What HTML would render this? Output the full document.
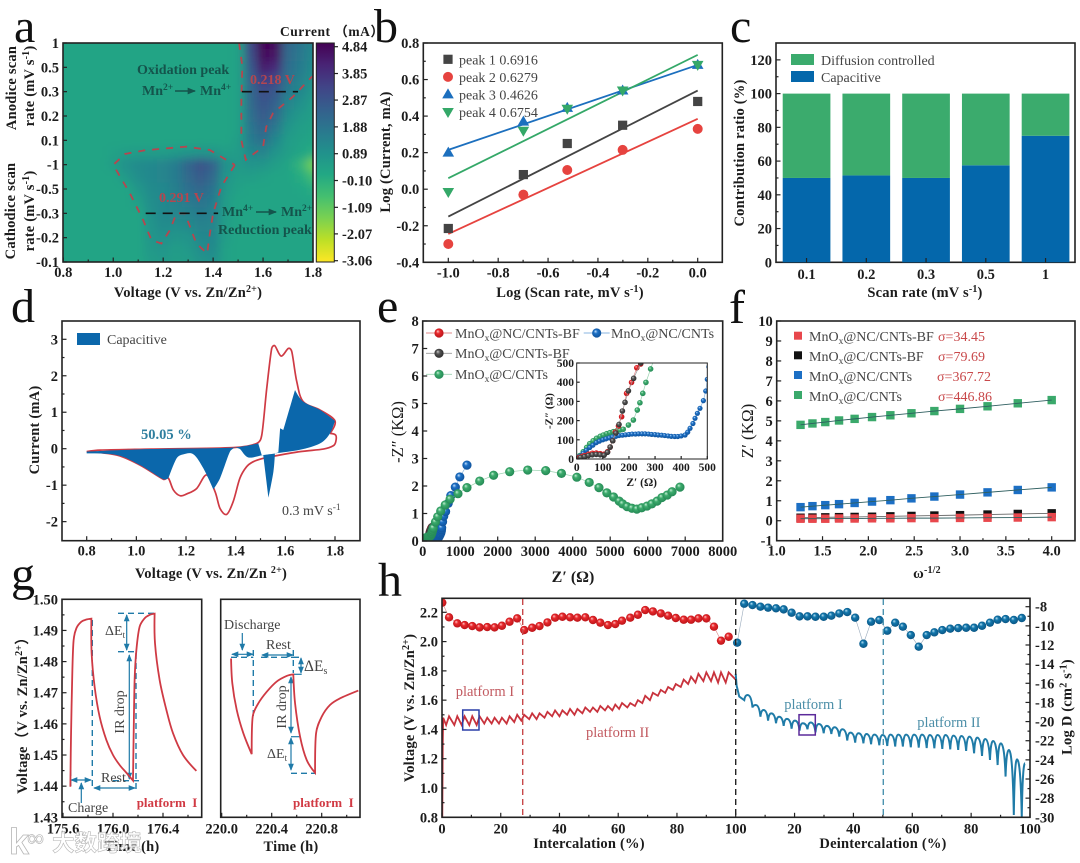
<!DOCTYPE html>
<html lang="en">
<head>
<meta charset="utf-8">
<title>MnOx electrochemistry figure</title>
<style>
html,body{margin:0;padding:0;background:#fff;}
#figure{display:block;width:1080px;height:863px;filter:blur(.35px);}
text{font-family:"Liberation Serif","Noto Sans CJK SC",serif;fill:#1c1c1c;}
.tk{font-size:14.5px;font-weight:bold;}
.at{font-size:14.5px;font-weight:bold;letter-spacing:.2px;}
.lt{font-size:14px;fill:#444;}
.pl{font-size:48px;fill:#111;}
.an{font-size:14px;fill:#444;}
.frame{fill:none;stroke:#222;stroke-width:1.6;}
.ann{stroke:#1f7aa8;stroke-width:1.2;fill:none;}
.dash{stroke-dasharray:6 4;stroke-width:1.4;}
</style>
</head>
<body>
<svg id="figure" xmlns="http://www.w3.org/2000/svg" width="1080" height="863" viewBox="0 0 1080 863">
<defs>
<linearGradient id="cbar" x1="0" y1="0" x2="0" y2="1">
<stop offset="0" stop-color="#440154"/><stop offset=".1" stop-color="#482475"/><stop offset=".2" stop-color="#414487"/><stop offset=".3" stop-color="#355f8d"/><stop offset=".4" stop-color="#2a788e"/><stop offset=".5" stop-color="#21918c"/><stop offset=".6" stop-color="#22a884"/><stop offset=".7" stop-color="#44bf70"/><stop offset=".8" stop-color="#7ad151"/><stop offset=".9" stop-color="#bddf26"/><stop offset="1" stop-color="#fde725"/>
</linearGradient>
<filter id="heatBlur" filterUnits="userSpaceOnUse" x="0" y="0" width="400" height="320"><feGaussianBlur stdDeviation="4.5"/></filter>
<clipPath id="clipA"><rect x="63" y="43" width="250" height="219"/></clipPath>
<clipPath id="clipInset"><rect x="576.7" y="363" width="130.6" height="96"/></clipPath>
<clipPath id="clipMain"><rect x="422.7" y="321" width="300" height="220"/></clipPath>
<clipPath id="clipH"><rect x="442" y="598" width="588" height="219.3"/></clipPath>
<radialGradient id="sRed" cx=".5" cy=".5" r=".6" fx=".35" fy=".3"><stop offset="0" stop-color="#ffc9c9"/><stop offset=".35" stop-color="#e8282c"/><stop offset="1" stop-color="#b01015"/></radialGradient>
<radialGradient id="sBlack" cx=".5" cy=".5" r=".6" fx=".35" fy=".3"><stop offset="0" stop-color="#ccc"/><stop offset=".35" stop-color="#555"/><stop offset="1" stop-color="#222"/></radialGradient>
<radialGradient id="sBlue" cx=".5" cy=".5" r=".6" fx=".35" fy=".3"><stop offset="0" stop-color="#c6e2ff"/><stop offset=".35" stop-color="#1c6fc4"/><stop offset="1" stop-color="#0d4c92"/></radialGradient>
<radialGradient id="sGreen" cx=".5" cy=".5" r=".6" fx=".35" fy=".3"><stop offset="0" stop-color="#c8f0d8"/><stop offset=".35" stop-color="#3cab6c"/><stop offset="1" stop-color="#1f8150"/></radialGradient>
<radialGradient id="sTeal" cx=".5" cy=".5" r=".6" fx=".35" fy=".3"><stop offset="0" stop-color="#bfe4f5"/><stop offset=".35" stop-color="#1277ac"/><stop offset="1" stop-color="#0a4f7c"/></radialGradient>
<marker id="ah" viewBox="0 0 8 8" refX="7" refY="4" markerWidth="6" markerHeight="6" orient="auto-start-reverse"><path d="M0 0.8L8 4L0 7.2z" fill="#1f7aa8"/></marker>
<marker id="ahk" viewBox="0 0 8 8" refX="7" refY="4" markerWidth="6" markerHeight="6" orient="auto"><path d="M0 0.8L8 4L0 7.2z" fill="#14544c"/></marker>
</defs>

<!-- panel letters -->
<text class="pl" x="14" y="42">a</text>
<text class="pl" x="374" y="42">b</text>
<text class="pl" x="730" y="42">c</text>
<text class="pl" x="11" y="322">d</text>
<text class="pl" x="377" y="322">e</text>
<text class="pl" x="729" y="323">f</text>
<text class="pl" x="11" y="590">g</text>
<text class="pl" x="378" y="596">h</text>

<!-- panel a -->
<g id="panelA">
<rect x="63" y="43" width="250" height="219" fill="#22a287"/>
<g clip-path="url(#clipA)"><g id="heatCells" filter="url(#heatBlur)"></g></g>
<g id="heatOutlines" clip-path="url(#clipA)"></g>
<rect class="frame" x="63" y="43" width="250" height="219"/>
<rect x="316.3" y="43" width="18" height="219" fill="url(#cbar)" stroke="#222" stroke-width="1"/>
<text x="280" y="36" style="font-size:13.5px;font-weight:bold;letter-spacing:.5px">Current （mA）</text>
<text x="137" y="74" style="font-size:14px;font-weight:bold;fill:#14544c">Oxidation peak</text>
<text x="142" y="95" style="font-size:14px;font-weight:bold;fill:#14544c">Mn<tspan dy="-5" font-size="9.5">2+</tspan></text>
<line x1="175" y1="91" x2="195" y2="91" stroke="#14544c" stroke-width="1.4" marker-end="url(#ahk)"/>
<text x="200" y="95" style="font-size:14px;font-weight:bold;fill:#14544c">Mn<tspan dy="-5" font-size="9.5">4+</tspan></text>
<text x="222" y="216" style="font-size:14px;font-weight:bold;fill:#14544c">Mn<tspan dy="-5" font-size="9.5">4+</tspan></text>
<line x1="256" y1="212" x2="276" y2="212" stroke="#14544c" stroke-width="1.4" marker-end="url(#ahk)"/>
<text x="281" y="216" style="font-size:14px;font-weight:bold;fill:#14544c">Mn<tspan dy="-5" font-size="9.5">2+</tspan></text>
<text x="218" y="234" style="font-size:14px;font-weight:bold;fill:#14544c">Reduction peak</text>
<text x="250" y="84" style="font-size:14px;font-weight:bold;fill:#b5464f">0.218 V</text>
<text x="159" y="202" style="font-size:14px;font-weight:bold;fill:#b5464f">0.291 V</text>
<text class="at" text-anchor="middle" x="188" y="297">Voltage (V vs. Zn/Zn<tspan dy="-5" font-size="10">2+</tspan><tspan dy="5">)</tspan></text>
<text class="at" text-anchor="middle" transform="translate(16,88) rotate(-90)">Anodice scan</text>
<text class="at" text-anchor="middle" transform="translate(34,86) rotate(-90)">rate (mV s<tspan dy="-5" font-size="10">-1</tspan><tspan dy="5">)</tspan></text>
<text class="at" text-anchor="middle" transform="translate(15,211) rotate(-90)">Cathodice scan</text>
<text class="at" text-anchor="middle" transform="translate(34,211) rotate(-90)">rate (mV s<tspan dy="-5" font-size="10">-1</tspan><tspan dy="5">)</tspan></text>
</g>

<!-- panel b -->
<g id="panelB">
<rect class="frame" x="423.3" y="43" width="299" height="219.3"/>
<text class="at" text-anchor="middle" x="570" y="297">Log (Scan rate, mV s<tspan dy="-5" font-size="10">-1</tspan><tspan dy="5">)</tspan></text>
<text class="at" text-anchor="middle" transform="translate(390,152) rotate(-90)">Log (Current, mA)</text>
</g>

<!-- panel c -->
<g id="panelC">
<rect class="frame" x="776" y="43" width="299" height="219.3"/>
<rect x="791" y="54" width="23" height="11" fill="#3bab6d"/>
<rect x="791" y="71" width="23" height="11" fill="#0467ab"/>
<text class="lt" x="821" y="65">Diffusion controlled</text>
<text class="lt" x="821" y="82">Capacitive</text>
<text class="at" text-anchor="middle" x="925" y="297">Scan rate (mV s<tspan dy="-5" font-size="10">-1</tspan><tspan dy="5">)</tspan></text>
<text class="at" text-anchor="middle" transform="translate(744,153) rotate(-90)">Contribution ratio (%)</text>
</g>

<!-- panel d -->
<g id="panelD">
<rect class="frame" x="62" y="321" width="298" height="219.7"/>
<rect x="77" y="333" width="23" height="12" fill="#0b67ab"/>
<text class="lt" x="107" y="344">Capacitive</text>
<text x="141" y="439" style="font-size:14.5px;font-weight:bold;fill:#2f7f9f">50.05 %</text>
<text class="lt" x="282" y="515">0.3 mV s<tspan dy="-5" font-size="9.5">-1</tspan></text>
<text class="at" text-anchor="middle" x="211" y="578">Voltage (V vs. Zn/Zn <tspan dy="-5" font-size="10">2+</tspan><tspan dy="5">)</tspan></text>
<text class="at" text-anchor="middle" transform="translate(39,430) rotate(-90)">Current (mA)</text>
</g>

<!-- panel e -->
<g id="panelE">
<g id="eMarks" clip-path="url(#clipMain)"></g>
<rect class="frame" x="422.7" y="321" width="300" height="220"/>
<g id="eLegend"></g>
<text class="lt" x="455" y="338">MnO<tspan dy="3" font-size="9.5">x</tspan><tspan dy="-3">@NC/CNTs-BF</tspan></text>
<text class="lt" x="611" y="338">MnO<tspan dy="3" font-size="9.5">x</tspan><tspan dy="-3">@NC/CNTs</tspan></text>
<text class="lt" x="455" y="358">MnO<tspan dy="3" font-size="9.5">x</tspan><tspan dy="-3">@C/CNTs-BF</tspan></text>
<text class="lt" x="455" y="379">MnO<tspan dy="3" font-size="9.5">x</tspan><tspan dy="-3">@C/CNTs</tspan></text>
<rect x="576.7" y="363" width="130.6" height="96" fill="#fff"/>
<g id="eInset" clip-path="url(#clipInset)"></g>
<rect x="576.7" y="363" width="130.6" height="96" fill="none" stroke="#222" stroke-width="1"/>
<text text-anchor="middle" x="641.7" y="486" style="font-size:11.5px;font-weight:bold">Z′ (Ω)</text>
<text text-anchor="middle" transform="translate(552.7,411) rotate(-90)" style="font-size:11px;font-weight:bold">-Z″ (Ω)</text>
<text text-anchor="middle" x="573" y="582" style="font-size:16px;font-weight:bold">Z′ (Ω)</text>
<text text-anchor="middle" transform="translate(403,432) rotate(-90)" style="font-size:16.5px">-Z″ (KΩ)</text>
</g>

<!-- panel f -->
<g id="panelF">
<rect class="frame" x="776.7" y="321" width="298.3" height="219.7"/>
<g id="fLegend"></g>
<text class="lt" x="809" y="341">MnO<tspan dy="3" font-size="9.5">x</tspan><tspan dy="-3">@NC/CNTs-BF</tspan></text>
<text class="lt" x="809" y="361">MnO<tspan dy="3" font-size="9.5">x</tspan><tspan dy="-3">@C/CNTs-BF</tspan></text>
<text class="lt" x="809" y="381">MnO<tspan dy="3" font-size="9.5">x</tspan><tspan dy="-3">@NC/CNTs</tspan></text>
<text class="lt" x="809" y="401">MnO<tspan dy="3" font-size="9.5">x</tspan><tspan dy="-3">@C/CNTs</tspan></text>
<text x="938" y="341" style="font-size:14px;fill:#c8484a">σ=34.45</text>
<text x="938" y="361" style="font-size:14px;fill:#c8484a">σ=79.69</text>
<text x="937" y="381" style="font-size:14px;fill:#c8484a">σ=367.72</text>
<text x="938" y="401" style="font-size:14px;fill:#c8484a">σ=446.86</text>
<text class="at" text-anchor="middle" x="927" y="578">ω<tspan dy="-5" font-size="10">-1/2</tspan></text>
<text text-anchor="middle" transform="translate(753,431) rotate(-90)" style="font-size:17px">Z′ (KΩ)</text>
</g>

<!-- panel g -->
<g id="panelG">
<rect class="frame" x="62" y="599.3" width="139.7" height="218"/>
<rect class="frame" x="220.7" y="599.3" width="139.3" height="218"/>
<g>
<line class="ann dash" x1="92.3" y1="620" x2="92.3" y2="787"/>
<line class="ann dash" x1="70.7" y1="770" x2="70.7" y2="787"/>
<line class="ann" x1="71" y1="780" x2="91" y2="780" marker-start="url(#ah)" marker-end="url(#ah)"/>
<line class="ann" x1="81.3" y1="803" x2="81.3" y2="783" marker-end="url(#ah)"/>
<line class="ann" x1="94" y1="788" x2="135" y2="788" marker-start="url(#ah)" marker-end="url(#ah)"/>
<line class="ann dash" x1="136" y1="653" x2="136" y2="790"/>
<line class="ann dash" x1="118" y1="613.3" x2="155" y2="613.3"/>
<line class="ann dash" x1="118" y1="651.7" x2="136.7" y2="651.7"/>
<line class="ann" x1="126.7" y1="615" x2="126.7" y2="650" marker-start="url(#ah)" marker-end="url(#ah)"/>
<line class="ann" x1="129.3" y1="655" x2="129.3" y2="779" marker-start="url(#ah)" marker-end="url(#ah)"/>
<line class="ann dash" x1="113" y1="780.7" x2="143" y2="780.7"/>
<text class="an" x="68" y="812">Charge</text>
<text class="an" x="101" y="782">Rest</text>
<text class="an" x="105" y="635">ΔE<tspan dy="3" font-size="9">t</tspan></text>
<text class="an" text-anchor="middle" transform="translate(124,712) rotate(-90)">IR drop</text>
</g>
<g>
<line class="ann" x1="242.3" y1="633" x2="242.3" y2="650" marker-end="url(#ah)"/>
<line class="ann dash" x1="231" y1="657.3" x2="253.3" y2="657.3"/>
<line class="ann" x1="232" y1="654.3" x2="253" y2="654.3" marker-start="url(#ah)" marker-end="url(#ah)"/>
<line class="ann dash" x1="253.3" y1="650" x2="253.3" y2="717"/>
<line class="ann" x1="262" y1="655" x2="293" y2="655" marker-start="url(#ah)" marker-end="url(#ah)"/>
<line class="ann dash" x1="261" y1="657.3" x2="293" y2="657.3"/>
<line class="ann dash" x1="293.3" y1="650" x2="293.3" y2="673"/>
<line class="ann dash" x1="293" y1="657.3" x2="302.7" y2="657.3"/>
<line class="ann" x1="293" y1="674.3" x2="301.7" y2="674.3"/>
<line class="ann" x1="301" y1="658" x2="301" y2="673" marker-start="url(#ah)" marker-end="url(#ah)"/>
<line class="ann" x1="291" y1="677" x2="291" y2="733" marker-start="url(#ah)" marker-end="url(#ah)"/>
<line class="ann" x1="291" y1="736.7" x2="300" y2="736.7"/>
<line class="ann" x1="291" y1="738" x2="291" y2="770" marker-start="url(#ah)" marker-end="url(#ah)"/>
<line class="ann dash" x1="291" y1="773.3" x2="315" y2="773.3"/>
<text class="an" x="224" y="629">Discharge</text>
<text class="an" x="266" y="649">Rest</text>
<text x="304" y="671" style="font-size:15.5px;fill:#444">ΔE<tspan dy="3" font-size="10">s</tspan></text>
<text class="an" text-anchor="middle" transform="translate(286,707) rotate(-90)">IR drop</text>
<text class="an" x="267" y="758">ΔE<tspan dy="3" font-size="9">t</tspan></text>
</g>
<text x="136.7" y="807" style="font-size:13px;font-weight:bold;fill:#d13a44">platform&#160;&#160;I</text>
<text x="293" y="807" style="font-size:13px;font-weight:bold;fill:#d13a44">platform&#160;&#160;I</text>
<text class="at" text-anchor="middle" x="132" y="851">Time (h)</text>
<text class="at" text-anchor="middle" x="291" y="851">Time (h)</text>
<text class="at" text-anchor="middle" transform="translate(27,712) rotate(-90)">Voltage（V vs. Zn/Zn<tspan dy="-5" font-size="10">2+</tspan><tspan dy="5">）</tspan></text>
</g>

<!-- panel h -->
<g id="panelH">
<g id="hMarks" clip-path="url(#clipH)"></g>
<rect class="frame" x="442" y="598.3" width="588" height="219"/>
<line x1="522.7" y1="599" x2="522.7" y2="817" stroke="#c8484a" stroke-width="1.4" stroke-dasharray="6 4"/>
<line x1="735.7" y1="599" x2="735.7" y2="817" stroke="#222" stroke-width="1.4" stroke-dasharray="6 4"/>
<line x1="883.3" y1="599" x2="883.3" y2="817" stroke="#4d94b0" stroke-width="1.4" stroke-dasharray="6 4"/>
<rect x="462.7" y="710" width="16.3" height="20" fill="none" stroke="#2a3fa8" stroke-width="1.5"/>
<rect x="799" y="714.7" width="16.3" height="20.3" fill="none" stroke="#5b2a9a" stroke-width="1.5"/>
<text x="455.7" y="696" style="font-size:14.5px;fill:#c25a60">platform I</text>
<text x="586" y="737" style="font-size:14.5px;fill:#c25a60">platform II</text>
<text x="784.3" y="709" style="font-size:14.5px;fill:#4d8fa8">platform I</text>
<text x="917.3" y="727" style="font-size:14.5px;fill:#4d8fa8">platform II</text>
<text class="at" text-anchor="middle" x="589" y="848">Intercalation (%)</text>
<text class="at" text-anchor="middle" x="883" y="848">Deintercalation (%)</text>
<text class="at" text-anchor="middle" transform="translate(414,708) rotate(-90)">Voltage (V vs. Zn/Zn<tspan dy="-5" font-size="10">2+</tspan><tspan dy="5">)</tspan></text>
<text class="at" text-anchor="middle" transform="translate(1071.7,707) rotate(-90)">Log D (cm<tspan dy="-5" font-size="10">2</tspan><tspan dy="5"> s</tspan><tspan dy="-5" font-size="10">-1</tspan><tspan dy="5">)</tspan></text>
</g>

<!-- watermark -->
<g opacity=".85">
<text x="9" y="854" style="font-size:36px;font-family:'Liberation Sans',sans-serif;font-weight:bold;fill:#fff;stroke:#aaa;stroke-width:.8">k</text>
<text x="27" y="846" style="font-size:24px;font-family:'Liberation Sans',sans-serif;fill:#fff;stroke:#aaa;stroke-width:.7">∞</text>
<text x="52" y="851" style="font-size:22.5px;font-family:'Liberation Sans','Noto Sans CJK SC',sans-serif;font-weight:bold;fill:#fff;stroke:#aaa;stroke-width:.6">大数跨境</text>
</g>
</svg>

<script>
/* ---------- panel a data ---------- */
const heatVoltages = [0.8,0.85,0.9,0.95,1,1.05,1.1,1.15,1.2,1.25,1.3,1.35,1.4,1.45,1.5,1.55,1.6,1.65,1.7,1.75,1.8];
const heatValues = [
[-.1,-.1,-.1,-.1,-.1,-.1,-.1,-.1,-.1,-.1,-.1,-.1,-.1,-.1,0,3,4.8,4.6,2,1.5,1],
[-.1,-.1,-.1,-.1,-.1,-.1,-.1,-.1,-.1,-.1,-.1,-.1,-.1,-.1,0,2.8,4.6,4.4,1.9,1.4,.9],
[-.1,-.1,-.1,-.1,-.1,-.1,-.1,-.1,-.1,-.1,-.1,-.1,-.1,-.1,0,2.5,4.2,3.8,1.8,1.3,.8],
[-.1,-.1,-.1,-.1,-.1,-.1,-.1,-.1,-.1,-.1,-.1,-.1,-.1,-.1,0,2.2,3.4,3,1.6,1.1,.6],
[-.1,-.1,-.1,-.1,-.1,-.1,-.1,-.1,-.1,-.1,-.1,-.1,-.1,-.1,0,2,2.8,2.5,1.3,.9,.4],
[-.1,-.1,-.1,-.1,-.1,-.1,-.1,-.1,-.1,-.1,-.1,-.1,-.1,-.1,0,1.9,2.6,2.2,1,.6,.2],
[-.1,-.1,-.1,-.1,-.1,-.1,-.1,-.1,-.1,-.1,-.1,-.1,-.1,-.1,0,1.7,2.4,1.9,.7,.3,.1],
[-.1,-.1,-.1,-.1,-.1,-.1,-.1,-.1,-.1,-.1,-.1,-.1,-.1,-.1,0,1.5,2.1,1.4,.4,.1,0],
[-.1,-.1,-.1,-.1,-.1,-.1,-.1,-.1,-.1,-.1,-.1,-.1,-.1,-.1,.1,1.3,1.7,.9,.2,0,-.1],
[-.1,-.1,-.1,-.1,0,.1,.2,.2,.2,.3,.4,.5,.4,.1,.2,.9,1,.5,.1,-.1,-.4],
[-.1,-.1,-.1,-.1,.1,.6,.8,.9,1,1.3,2.1,2.7,2.2,.6,.3,.5,.4,.1,-.1,-.7,-1.8],
[-.1,-.1,-.1,-.1,-.1,.3,.7,.9,1,1.3,1.9,2.4,1.9,.5,.1,.1,0,-.1,-.1,-.4,-1],
[-.1,-.1,-.1,-.1,-.1,-.1,.4,.8,.9,1.2,1.7,2,1.6,.3,0,-.1,-.1,-.1,-.1,-.2,-.4],
[-.1,-.1,-.1,-.1,-.1,-.1,.1,.7,.9,1.1,1.4,1.6,1.3,.2,-.1,-.1,-.1,-.1,-.1,-.1,-.1],
[-.1,-.1,-.1,-.1,-.1,-.1,-.1,.6,.9,1,1.1,1.3,1.1,.2,-.1,-.1,-.1,-.1,-.1,-.1,-.1],
[-.1,-.1,-.1,-.1,-.1,-.1,-.1,.5,.8,.7,.8,1.1,1,.1,-.1,-.1,-.1,-.1,-.1,-.1,-.1],
[-.1,-.1,-.1,-.1,-.1,-.1,-.1,.4,.6,.4,.5,.9,.9,.1,-.1,-.1,-.1,-.1,-.1,-.1,-.1],
[-.1,-.1,-.1,-.1,-.1,-.1,-.1,.3,.4,.2,.3,.7,.8,0,-.1,-.1,-.1,-.1,-.1,-.1,-.1],
[-.1,-.1,-.1,-.1,-.1,-.1,-.1,.2,.3,.1,.2,.5,.6,0,-.1,-.1,-.1,-.1,-.1,-.1,-.1]
];
const aXTickLabels = ["0.8","1.0","1.2","1.4","1.6","1.8"];
const aXTicks = [0.8,1,1.2,1.4,1.6,1.8];
const aXMinor = [0.9,1.1,1.3,1.5,1.7];
const aYTickLabels = ["1","0.5","0.3","0.2","0.1","-1","-0.5","-0.3","-0.2","-0.1"];
const cbarTicks = [4.84,3.85,2.87,1.88,0.89,-0.10,-1.09,-2.07,-3.06];
const cbarLabels = ["4.84","3.85","2.87","1.88","0.89","-0.10","-1.09","-2.07","-3.06"];
const oxOutlineV = [1.504,1.517,1.513,1.513,1.531,1.6,1.613,1.64,1.72,1.797];
const oxOutlineR = [0,.96,2.34,4,4.8,4.27,3.44,2.88,2.2,1.37];
const redOutlineV = [1.487,1.433,1.4,1.387,1.376,1.333,1.287,1.253,1.227,1.193,1.153,1.12,1.067,1,1.047,1.133,1.293,1.387,1.487];
const redOutlineR = [5.01,5.9,7,7.83,8.65,8.24,7,7,7.69,8.24,8.1,7.28,6.18,5.01,4.56,4.4,4.26,4.4,5.01];

/* ---------- panel b data ---------- */
const logScanRate = [-1,-0.699,-0.523,-0.301,0];
const peak1 = [-0.215,0.08,0.25,0.35,0.48];
const peak2 = [-0.30,-0.03,0.105,0.215,0.33];
const peak3 = [0.2,0.37,0.445,0.54,0.68];
const peak4 = [-0.015,0.32,0.44,0.54,0.68];
const fitEndsX = [-1,0];
const fit1 = [-0.15,0.54];
const fit2 = [-0.245,0.385];
const fit3 = [0.215,0.68];
const fit4 = [0.06,0.735];
const bLegendLabels = ["peak 1 0.6916","peak 2 0.6279","peak 3 0.4626","peak 4 0.6754"];
const bXTicks = [-1,-0.8,-0.6,-0.4,-0.2,0];
const bXLabels = ["-1.0","-0.8","-0.6","-0.4","-0.2","0.0"];
const bXMinor = [-0.9,-0.7,-0.5,-0.3,-0.1];
const bYTicks = [-0.4,-0.2,0,0.2,0.4,0.6,0.8];
const bYLabels = ["-0.4","-0.2","0.0","0.2","0.4","0.6","0.8"];
const bYMinor = [-0.3,-0.1,0.1,0.3,0.5,0.7];

/* ---------- panel c data ---------- */
const scanRates = ["0.1","0.2","0.3","0.5","1"];
const capacitiveShare = [50,51.5,50,57.5,75];
const diffusionShare = [50,48.5,50,42.5,25];
const cYTicks = [0,20,40,60,80,100,120];
const cYLabels = ["0","20","40","60","80","100","120"];
const cYMinor = [10,30,50,70,90,110];

/* ---------- panel d data ---------- */
const cvVoltage = [1.78,1.803,1.803,1.793,1.753,1.659,1.565,1.511,1.471,1.444,1.417,1.39,1.364,1.337,1.317,1.283,1.243,1.203,1.176,1.149,1.129,1.109,1.015,0.921,0.8,0.854,1.06,1.39,1.485,1.505,1.525,1.545,1.558,1.583,1.612,1.626,1.646,1.672,1.74,1.8,1.78];
const cvCurrent = [0.42,0.37,0.19,0.08,-0.01,-0.08,-0.19,-0.265,-0.356,-0.494,-0.81,-1.45,-1.8,-1.64,-1.18,-0.72,-1.09,-1.24,-1.29,-1.13,-0.81,-0.84,-0.45,-0.174,-0.08,-0.04,-0.01,0.03,0.146,0.37,1.65,2.75,2.82,2.54,2.75,2.66,1.84,1.29,1.06,0.76,0.42];
const capVoltage = [0.8,1.06,1.39,1.491,1.505,1.511,1.532,1.552,1.558,1.572,1.579,1.592,1.639,1.672,1.74,1.8,1.78,1.74,1.659,1.558,1.511,1.451,1.417,1.397,1.377,1.337,1.31,1.27,1.23,1.189,1.162,1.129,1.109,1.015,0.921,0.8];
const capCurrent = [-0.08,-0.01,0.03,0.146,-0.174,-0.174,-1.34,-0.63,-0.13,-0.1,0.56,0.51,1.61,1.29,1.06,0.76,0.42,0.146,-0.03,-0.13,-0.174,-0.24,-0.01,0.03,-0.08,-0.81,-1.115,-0.54,-0.155,-0.155,-0.265,-0.81,-0.84,-0.45,-0.174,-0.13];
const dXTicks = [0.8,1,1.2,1.4,1.6,1.8];
const dXLabels = ["0.8","1.0","1.2","1.4","1.6","1.8"];
const dXMinor = [0.9,1.1,1.3,1.5,1.7];
const dYTicks = [-2,-1,0,1,2,3];
const dYLabels = ["-2","-1","0","1","2","3"];
const dYMinor = [-1.5,-0.5,0.5,1.5,2.5];

/* ---------- panel e data (ohm) ---------- */
const greenRe = [12,25,38,50,63,76,90,102,115,127,140,153,165,178,198,217,232,242,253,265,283,340,400,480,600,730,940,1180,1520,1890,2320,2800,3280,3700,4110,4440,4700,4910,5090,5240,5330,5450,5580,5710,5840,5980,6110,6250,6380,6520,6650,6860];
const greenIm = [18,38,60,80,95,108,118,125,132,137,142,146,151,155,177,203,255,293,342,399,469,690,880,1090,1310,1520,1720,1940,2180,2390,2520,2580,2560,2460,2320,2130,1940,1750,1600,1450,1350,1250,1190,1160,1210,1270,1350,1450,1580,1670,1790,1960];
const blueRe = [5,12,25,37,50,62,75,87,100,112,125,137,150,162,175,187,200,212,225,237,250,262,275,287,300,312,325,337,350,362,375,387,400,415,425,434,445,453,462,472,485,494,500,506,530,560,610,680,750,870,990,1180];
const blueIm = [8,15,30,45,60,72,85,93,100,105,110,115,118,122,124,126,128,130,130,131,131,131,130,128,127,125,124,122,120,118,117,117,120,125,140,160,185,212,238,264,304,354,415,480,700,900,1070,1370,1650,1960,2330,2760];
const redRe = [10,20,30,45,60,75,90,105,118,128,138,148,160,172,191,210,230,245];
const redIm = [8,14,18,25,30,31,28,25,38,62,95,140,172,220,342,399,475,495];
const blackRe = [15,30,45,60,75,90,105,118,128,138,150,162,175,185,198,218,245];
const blackIm = [8,12,18,22,24,22,20,35,62,95,135,180,250,295,355,420,500];
const eXTicks = [0,1000,2000,3000,4000,5000,6000,7000,8000];
const eXLabels = ["0","1000","2000","3000","4000","5000","6000","7000","8000"];
const eYTicks = [0,1,2,3,4,5,6,7,8];
const eYLabels = ["0","1","2","3","4","5","6","7","8"];
const insetTicks = [0,100,200,300,400,500];
const insetLabels = ["0","100","200","300","400","500"];

/* ---------- panel f data ---------- */
const omegaInv = [1.26,1.39,1.53,1.68,1.85,2.04,2.24,2.47,2.72,3,3.3,3.63,4];
const fGreen = [4.8,4.87,4.94,5.02,5.1,5.19,5.28,5.38,5.49,5.6,5.73,5.88,6.04];
const fBlue = [.68,.73,.78,.83,.89,.96,1.03,1.12,1.21,1.31,1.42,1.54,1.67];
const fBlack = [.15,.16,.17,.18,.19,.2,.22,.24,.26,.28,.31,.34,.37];
const fRed = [.1,.1,.1,.11,.11,.12,.12,.13,.13,.14,.15,.16,.18];
const fXTicks = [1,1.5,2,2.5,3,3.5,4];
const fXLabels = ["1.0","1.5","2.0","2.5","3.0","3.5","4.0"];
const fXMinor = [1.25,1.75,2.25,2.75,3.25,3.75];
const fYTicks = [-1,0,1,2,3,4,5,6,7,8,9,10];
const fYLabels = ["-1","0","1","2","3","4","5","6","7","8","9","10"];

/* ---------- panel g data ---------- */
const gLeftTime = [175.659,175.664,175.675,175.685,175.707,175.747,175.787,175.827,175.829,175.853,175.893,175.947,176,176.053,176.107,176.16,176.165,176.173,176.187,176.213,176.253,176.293,176.333,176.336,176.373,176.427,176.48,176.56,176.667];
const gLeftVolt = [1.4398,1.4559,1.4773,1.4869,1.4907,1.4928,1.4935,1.4938,1.4827,1.4719,1.4623,1.4548,1.45,1.4468,1.4443,1.4418,1.4559,1.4741,1.4837,1.4912,1.4939,1.495,1.4954,1.4859,1.4741,1.4645,1.457,1.45,1.4449];
const gRightTime = [220.075,220.085,220.12,220.173,220.24,220.248,220.293,220.36,220.44,220.52,220.573,220.587,220.627,220.68,220.747,220.755,220.8,220.867,220.947,221.093];
const gRightVolt = [1.481,1.473,1.4645,1.457,1.4503,1.4623,1.4666,1.4703,1.4736,1.4754,1.4759,1.4666,1.4559,1.4484,1.4443,1.457,1.4623,1.4661,1.4682,1.4707];
const gYTicks = [1.43,1.44,1.45,1.46,1.47,1.48,1.49,1.5];
const gYLabels = ["1.43","1.44","1.45","1.46","1.47","1.48","1.49","1.50"];
const gYMinor = [1.435,1.445,1.455,1.465,1.475,1.485,1.495];
const gLeftXTicks = [175.6,176,176.4];
const gLeftXLabels = ["175.6","176.0","176.4"];
const gLeftXMinor = [175.8,176.2,176.6];
const gRightXTicks = [220,220.4,220.8];
const gRightXLabels = ["220.0","220.4","220.8"];
const gRightXMinor = [220.2,220.6,221];

/* ---------- panel h data ---------- */
const interX = [0.1,2.4,5.2,7.7,10.3,12.8,15.4,17.9,20.4,23,25.6,28,30.7,33.2,35.9,38.5,41,43.6,46.1,48.8,51.4,53.9,56.5,59,61.3,64.1,66.7,69.2,71.8,74.5,77,79.6,82.3,84.8,87.3,90,92.6,95,97.6];
const interLogD = [-7.58,-9.11,-9.74,-9.92,-10.02,-10.16,-10.13,-10.16,-9.99,-9.57,-9.22,-10.44,-10.2,-10.02,-9.64,-9.15,-9.05,-9.11,-9.15,-9.11,-9.39,-9.67,-9.92,-9.81,-9.46,-9.15,-8.84,-8.35,-8.49,-8.7,-8.94,-9.18,-9.36,-9.36,-9.22,-9.22,-10.09,-11.55,-11.14];
const interPeak = [1.49,1.49,1.49,1.49,1.49,1.48,1.48,1.48,1.49,1.5,1.5,1.51,1.51,1.52,1.53,1.53,1.54,1.54,1.55,1.55,1.56,1.56,1.57,1.58,1.58,1.6,1.63,1.65,1.67,1.69,1.71,1.74,1.76,1.78,1.79,1.79,1.79,1.79];
const interTrough = [1.43,1.43,1.43,1.43,1.43,1.44,1.44,1.44,1.44,1.45,1.46,1.47,1.47,1.48,1.49,1.49,1.5,1.5,1.51,1.52,1.52,1.53,1.53,1.54,1.55,1.56,1.58,1.6,1.63,1.65,1.67,1.69,1.71,1.72,1.73,1.73,1.72,1.72];
const deintX = [2.9,5.7,8.4,11,13.7,16.3,19,21.7,24.4,27.1,29.9,32.5,35.2,37.9,40.6,43.4,46,48.8,51.5,54.2,56.8,59.5,62.2,64.9,67.5,70.2,72.9,75.6,78.3,81,83.7,86.4,89,91.7,94.5,97.2];
const deintDotX = [0.5,2.9,5.7,8.4,11,13.7,16.3,19,21.7,24.4,27.1,29.9,32.5,35.2,37.9,40.6,43.4,46,48.8,51.5,54.2,56.8,59.5,62.2,64.9,67.5,70.2,72.9,75.6,78.3,81,83.7,86.4,89,91.7,94.5,97.2];
const deintLogD = [-11.76,-7.69,-7.83,-8,-8.1,-8.17,-8.28,-8.63,-9.01,-9.01,-9.05,-9.05,-8.94,-8.7,-8.56,-9.15,-11.87,-9.57,-9.39,-10.51,-9.67,-10.09,-10.96,-12.18,-10.96,-10.68,-10.44,-10.3,-10.23,-10.2,-10.2,-9.99,-9.67,-9.36,-9.29,-9.39,-9.18];
const deintPeak = [1.635,1.567,1.533,1.51,1.487,1.472,1.46,1.442,1.447,1.437,1.424,1.415,1.401,1.378,1.374,1.369,1.365,1.362,1.365,1.365,1.365,1.365,1.365,1.362,1.362,1.362,1.358,1.355,1.351,1.344,1.335,1.321,1.305,1.26,1.196,1.169];
const deintTrough = [1.6,1.55,1.487,1.46,1.442,1.424,1.405,1.392,1.401,1.38,1.374,1.369,1.351,1.324,1.31,1.305,1.299,1.292,1.287,1.283,1.283,1.278,1.276,1.273,1.271,1.267,1.264,1.26,1.253,1.237,1.219,1.192,1.157,1.078,0.816,0.8];
const hLeftXTicks = [0,20,40,60,80,100];
const hLeftXLabels = ["0","20","40","60","80","100"];
const hLeftXMinor = [10,30,50,70,90];
const hRightXTicks = [20,40,60,80,100];
const hRightXLabels = ["20","40","60","80","100"];
const hRightXMinor = [10,30,50,70,90];
const hYTicks = [0.8,1,1.2,1.4,1.6,1.8,2,2.2];
const hYLabels = ["0.8","1.0","1.2","1.4","1.6","1.8","2.0","2.2"];
const hYMinor = [0.9,1.1,1.3,1.5,1.7,1.9,2.1];
const hDTicks = [-8,-10,-12,-14,-16,-18,-20,-22,-24,-26,-28,-30];
const hDLabels = ["-8","-10","-12","-14","-16","-18","-20","-22","-24","-26","-28","-30"];
const hDMinor = [-9,-11,-13,-15,-17,-19,-21,-23,-25,-27,-29];

/* ---------- helpers ---------- */
const NS = "http://www.w3.org/2000/svg";
const root = document.getElementById("figure");
function add(parent, tag, attrs, name) {
  const el = document.createElementNS(NS, tag);
  for (const k in attrs) el.setAttribute(k, attrs[k]);
  
  
  parent.appendChild(el);
  return el;
}
function scale(d0, d1, r0, r1) { return v => r0 + (v - d0) / (d1 - d0) * (r1 - r0); }
function pts(xs, ys, sx, sy) { return xs.map((x, i) => sx(x).toFixed(2) + "," + sy(ys[i]).toFixed(2)).join(" "); }
/* Rounded path through data points, keeping sharp corners above a turn angle (degrees). */
function smooth(xs, ys, sx, sy, maxTurn, close) {
  const p = xs.map((x, i) => [sx(x), sy(ys[i])]);
  const n = p.length;
  const isCorner = i => {
    if (i === 0 || i === n - 1) return true;
    const a = Math.atan2(p[i][1] - p[i - 1][1], p[i][0] - p[i - 1][0]);
    const b = Math.atan2(p[i + 1][1] - p[i][1], p[i + 1][0] - p[i][0]);
    let t = Math.abs(a - b) * 180 / Math.PI;
    if (t > 180) t = 360 - t;
    return t > maxTurn;
  };
  const tan = i => {
    if (isCorner(i)) return [0, 0];
    return [(p[i + 1][0] - p[i - 1][0]) / 6, (p[i + 1][1] - p[i - 1][1]) / 6];
  };
  const limit = (v, len) => {
    const m = Math.hypot(v[0], v[1]), cap = len / 2.5;
    return m > cap && m > 0 ? [v[0] * cap / m, v[1] * cap / m] : v;
  };
  let d = "M" + p[0][0].toFixed(2) + " " + p[0][1].toFixed(2);
  for (let i = 0; i < n - 1; i++) {
    const len = Math.hypot(p[i + 1][0] - p[i][0], p[i + 1][1] - p[i][1]);
    const t0 = limit(tan(i), len), t1 = limit(tan(i + 1), len);
    d += "C" + (p[i][0] + t0[0]).toFixed(2) + " " + (p[i][1] + t0[1]).toFixed(2) + " " +
      (p[i + 1][0] - t1[0]).toFixed(2) + " " + (p[i + 1][1] - t1[1]).toFixed(2) + " " +
      p[i + 1][0].toFixed(2) + " " + p[i + 1][1].toFixed(2);
  }
  return close ? d + "Z" : d;
}
function label(parent, x, y, str, anchor, cls, name, size) {
  const t = add(parent, "text", {x: x, y: y, "text-anchor": anchor, class: cls}, name);
  if (size) t.style.fontSize = size + "px";
  t.textContent = str;
  return t;
}
function tick(parent, x1, y1, x2, y2, name) {
  add(parent, "line", {x1: x1, y1: y1, x2: x2, y2: y2, stroke: "#222", "stroke-width": 1.2}, name);
}
function xAxis(parent, sx, ticks, labels, minor, yPos, prefix, size, off) {
  ticks.forEach((v, i) => {
    tick(parent, sx(v), yPos, sx(v), yPos - 4.5, prefix + "-x-tick");
    label(parent, sx(v), yPos + (off || 15), labels[i], "middle", "tk", prefix + "-x-tick-label", size);
  });
  (minor || []).forEach(v => tick(parent, sx(v), yPos, sx(v), yPos - 2.5, prefix + "-x-minor-tick"));
}
function yAxis(parent, sy, ticks, labels, minor, xPos, prefix, size) {
  ticks.forEach((v, i) => {
    tick(parent, xPos, sy(v), xPos + 4.5, sy(v), prefix + "-y-tick");
    label(parent, xPos - 4, sy(v) + (size ? size * .34 : 5), labels[i], "end", "tk", prefix + "-y-tick-label", size);
  });
  (minor || []).forEach(v => tick(parent, xPos, sy(v), xPos + 2.5, sy(v), prefix + "-y-minor-tick"));
}
function viridis(t) {
  const c = [[68,1,84],[72,36,117],[65,68,135],[53,95,141],[42,120,142],[33,145,140],[34,168,132],[68,191,112],[122,209,81],[189,223,38],[253,231,37]];
  const p = Math.max(0, Math.min(.9999, t)) * 10, i = Math.floor(p), f = p - i;
  return "rgb(" + c[i].map((a, k) => Math.round(a + (c[i + 1][k] - a) * f)).join(",") + ")";
}

/* ---------- panel a ---------- */
(function () {
  const g = document.getElementById("panelA");
  const cells = document.getElementById("heatCells");
  const outlines = document.getElementById("heatOutlines");
  const sx = scale(0.8, 1.8, 63.3, 313);
  const sr = scale(0, 9, 43, 262);
  const halfW = 6.25, halfH = 6.1;
  heatValues.forEach((row, r) => row.forEach((v, c) => {
    const cx = sx(heatVoltages[c]), cy = sr(r / 2);
    const x0 = c === 0 ? cx - 25 : cx - halfW, x1 = c === row.length - 1 ? cx + 25 : cx + halfW;
    const y0 = r === 0 ? cy - 25 : cy - halfH, y1 = r === heatValues.length - 1 ? cy + 25 : cy + halfH;
    add(cells, "rect", {x: x0, y: y0, width: x1 - x0 + .5, height: y1 - y0 + .5, fill: viridis((4.84 - v) / 7.9 * 0.93)}, "heatmap-cell");
  }));
  const dash = {fill: "none", stroke: "#b5464f", "stroke-width": 1.8, "stroke-dasharray": "7 7"};
  add(outlines, "polyline", Object.assign({points: pts(oxOutlineV, oxOutlineR, sx, sr)}, dash), "oxidation-peak-outline");
  add(outlines, "polyline", Object.assign({points: pts(redOutlineV, redOutlineR, sx, sr)}, dash), "reduction-peak-outline");
  const guide = {stroke: "#111", "stroke-width": 1.6, "stroke-dasharray": "10 7"};
  add(g, "line", Object.assign({x1: sx(1.515), x2: sx(1.74), y1: sr(2), y2: sr(2)}, guide), "oxidation-peak-gap-line");
  add(g, "line", Object.assign({x1: sx(1.13), x2: sx(1.42), y1: sr(7), y2: sr(7)}, guide), "reduction-peak-gap-line");
  xAxis(g, sx, aXTicks, aXTickLabels, aXMinor, 262, "heatmap");
  aYTickLabels.forEach((s, i) => {
    tick(g, 63, sr(i), 67, sr(i), "heatmap-y-tick");
    label(g, 59, sr(i) + 5, s, "end", "tk", "heatmap-y-tick-label");
  });
  const sc = scale(4.84, -3.06, 46.7, 260.7);
  cbarTicks.forEach((v, i) => {
    tick(g, 334.3, sc(v), 338, sc(v), "colorbar-tick");
    label(g, 342, sc(v) + 5, cbarLabels[i], "start", "tk", "colorbar-tick-label");
  });
})();

/* ---------- panel b ---------- */
(function () {
  const g = document.getElementById("panelB");
  const sx = scale(-1, 0, 448.3, 697.7);
  const sy = scale(-0.4, 0.8, 262.3, 43);
  xAxis(g, sx, bXTicks, bXLabels, bXMinor, 262.3, "b");
  yAxis(g, sy, bYTicks, bYLabels, bYMinor, 423.3, "b");
  const colors = ["#444444","#e6433f","#1c6fbe","#34a868"];
  const fits = [fit1, fit2, fit3, fit4];
  const series = [peak1, peak2, peak3, peak4];
  function marker(kind, cx, cy, col, name) {
    if (kind === 0) add(g, "rect", {x: cx - 4.6, y: cy - 4.6, width: 9.2, height: 9.2, fill: col}, name);
    else if (kind === 1) add(g, "circle", {cx: cx, cy: cy, r: 5, fill: col}, name);
    else if (kind === 2) add(g, "path", {d: `M${cx} ${cy - 6}L${cx + 5.8} ${cy + 4}L${cx - 5.8} ${cy + 4}Z`, fill: col}, name);
    else add(g, "path", {d: `M${cx} ${cy + 6}L${cx + 5.8} ${cy - 4}L${cx - 5.8} ${cy - 4}Z`, fill: col}, name);
  }
  fits.forEach((f, k) => {
    add(g, "line", {x1: sx(fitEndsX[0]), y1: sy(f[0]), x2: sx(fitEndsX[1]), y2: sy(f[1]), stroke: colors[k], "stroke-width": 1.8}, "fit-line-peak-" + (k + 1));
  });
  series.forEach((s, k) => s.forEach((v, i) => marker(k, sx(logScanRate[i]), sy(v), colors[k], "point-peak-" + (k + 1))));
  const legendY = scale(0, 3, 59.3, 112);
  bLegendLabels.forEach((t, k) => {
    marker(k, 448, legendY(k), colors[k], "legend-marker-peak-" + (k + 1));
    label(g, 459, legendY(k) + 5, t, "start", "lt", "legend-label-peak-" + (k + 1));
  });
})();

/* ---------- panel c ---------- */
(function () {
  const g = document.getElementById("panelC");
  const sy = scale(0, 130, 262.3, 43);
  const band = i => 782.7 + i * 59.75;
  const barW = 47.7;
  scanRates.forEach((c, i) => {
    add(g, "rect", {x: band(i), y: sy(capacitiveShare[i]), width: barW, height: sy(0) - sy(capacitiveShare[i]), fill: "#0467ab"}, "bar-capacitive-" + c);
    add(g, "rect", {x: band(i), y: sy(capacitiveShare[i] + diffusionShare[i]), width: barW, height: sy(0) - sy(diffusionShare[i]), fill: "#3bab6d"}, "bar-diffusion-" + c);
    tick(g, band(i) + barW / 2, 262.3, band(i) + barW / 2, 258, "c-x-tick");
    label(g, band(i) + barW / 2, 279, c, "middle", "tk", "c-x-tick-label");
  });
  yAxis(g, sy, cYTicks, cYLabels, cYMinor, 776, "c");
})();

/* ---------- panel d ---------- */
(function () {
  const g = document.getElementById("panelD");
  const sx = scale(0.8, 1.8, 86.7, 335);
  const sy = scale(0, 3, 448.7, 339.3);
  add(g, "path", {d: smooth(cvVoltage, cvCurrent, sx, sy, 125, false), fill: "none", stroke: "#cf3a44", "stroke-width": 1.7}, "cv-total-curve");
  add(g, "path", {d: smooth(capVoltage, capCurrent, sx, sy, 55, true), fill: "#0b67ab"}, "cv-capacitive-area");
  xAxis(g, sx, dXTicks, dXLabels, dXMinor, 540.7, "d");
  yAxis(g, sy, dYTicks, dYLabels, dYMinor, 62, "d");
})();

/* ---------- panel e ---------- */
(function () {
  const g = document.getElementById("panelE");
  const marks = document.getElementById("eMarks");
  const inset = document.getElementById("eInset");
  const legend = document.getElementById("eLegend");
  const sx = scale(0, 8000, 422.7, 722.7);
  const sy = scale(0, 8000, 541, 321);
  const ix = scale(0, 500, 576.7, 707.3);
  const iy = scale(0, 500, 459, 363);
  const colorMap = {red: "url(#sRed)", black: "url(#sBlack)", blue: "url(#sBlue)", green: "url(#sGreen)"};
  const lineMap = {red: "#e08a8a", black: "#999", blue: "#8ab6e0", green: "#9ad2b0"};
  function series(parent, xs, ys, key, fx, fy, r, prefix) {
    add(parent, "polyline", {points: pts(xs, ys, fx, fy), fill: "none", stroke: lineMap[key], "stroke-width": .7}, prefix + "-line-" + key);
    xs.forEach((x, i) => add(parent, "circle", {cx: fx(x), cy: fy(ys[i]), r: r, fill: colorMap[key]}, prefix + "-point-" + key));
  }
  series(marks, redRe, redIm, "red", sx, sy, 4.2, "nyquist");
  series(marks, blackRe, blackIm, "black", sx, sy, 4.2, "nyquist");
  series(marks, blueRe, blueIm, "blue", sx, sy, 4.6, "nyquist");
  series(marks, greenRe, greenIm, "green", sx, sy, 4.6, "nyquist");
  series(inset, greenRe, greenIm, "green", ix, iy, 2.8, "inset");
  series(inset, blueRe, blueIm, "blue", ix, iy, 2.6, "inset");
  series(inset, redRe, redIm, "red", ix, iy, 2.8, "inset");
  series(inset, blackRe, blackIm, "black", ix, iy, 2.8, "inset");
  xAxis(g, sx, eXTicks, eXLabels, [], 541, "e");
  yAxis(g, v => sy(v * 1000), eYTicks, eYLabels, [], 422.7, "e");
  insetTicks.forEach((v, i) => {
    tick(g, ix(v), 459, ix(v), 456, "inset-x-tick");
    label(g, ix(v), 471, insetLabels[i], "middle", "tk", "inset-x-tick-label", 11.5);
    tick(g, 576.7, iy(v), 579.7, iy(v), "inset-y-tick");
    label(g, 574, iy(v) + 4, insetLabels[i], "end", "tk", "inset-y-tick-label", 11.5);
  });
  [["red", 439, 333], ["blue", 596.7, 333], ["black", 439, 353.3], ["green", 439, 374.3]].forEach(e => {
    add(legend, "line", {x1: e[1] - 13, x2: e[1] + 13, y1: e[2], y2: e[2], stroke: lineMap[e[0]], "stroke-width": .9}, "legend-line-" + e[0]);
    add(legend, "circle", {cx: e[1], cy: e[2], r: 4.6, fill: colorMap[e[0]]}, "legend-marker-" + e[0]);
  });
})();

/* ---------- panel f ---------- */
(function () {
  const g = document.getElementById("panelF");
  const legend = document.getElementById("fLegend");
  const sx = scale(1, 4, 776.7, 1051.7);
  const sy = scale(-1, 10, 540.7, 321);
  xAxis(g, sx, fXTicks, fXLabels, fXMinor, 540.7, "f");
  yAxis(g, sy, fYTicks, fYLabels, [], 776.7, "f");
  const list = [[fGreen, "#3aa96b", "green", 395], [fBlue, "#1c6fc4", "blue", 375], [fBlack, "#111111", "black", 355.3], [fRed, "#e8474c", "red", 335.7]];
  list.forEach(s => {
    s[0].forEach((v, i) => add(g, "rect", {x: sx(omegaInv[i]) - 4.2, y: sy(v) - 4.2, width: 8.4, height: 8.4, fill: s[1]}, "warburg-point-" + s[2]));
    add(g, "polyline", {points: pts(omegaInv, s[0], sx, sy), fill: "none", stroke: s[2] === "black" ? "#666" : "#2f5f60", "stroke-width": .9}, "warburg-fit-" + s[2]);
    add(legend, "rect", {x: 794, y: s[3] - 4, width: 8, height: 8, fill: s[1]}, "legend-swatch-" + s[2]);
  });
})();

/* ---------- panel g ---------- */
(function () {
  const g = document.getElementById("panelG");
  const sy = scale(1.43, 1.5, 817.3, 599.3);
  const sxL = scale(175.6, 176.4, 63, 163);
  const sxR = scale(220, 220.8, 221.7, 321.7);
  add(g, "path", {d: smooth(gLeftTime, gLeftVolt, sxL, sy, 70, false), fill: "none", stroke: "#cf3a44", "stroke-width": 1.8}, "gitt-curve-left");
  add(g, "path", {d: smooth(gRightTime, gRightVolt, sxR, sy, 70, false), fill: "none", stroke: "#cf3a44", "stroke-width": 1.8}, "gitt-curve-right");
  yAxis(g, sy, gYTicks, gYLabels, gYMinor, 62, "g");
  xAxis(g, sxL, gLeftXTicks, gLeftXLabels, gLeftXMinor, 817.3, "g-left", null, 16);
  xAxis(g, sxR, gRightXTicks, gRightXLabels, gRightXMinor, 817.3, "g-right", null, 16);
})();

/* ---------- panel h ---------- */
(function () {
  const g = document.getElementById("panelH");
  const marks = document.getElementById("hMarks");
  const sxL = scale(0, 100, 442, 735.7);
  const sxR = scale(0, 100, 735.7, 1030);
  const sy = scale(0.8, 2.2, 817.3, 612.3);
  const sd = scale(-8, -30, 606.7, 817.3);

  let d = `M${sxL(0.1)} ${sy(0.8)}L${sxL(0.25)} ${sy(1.3)}L${sxL(0.4)} ${sy(1.48)}`;
  interPeak.forEach((p, i) => {
    const x = interX[i + 1];
    d += `L${sxL(x - 1)} ${sy(interTrough[i])}L${sxL(x)} ${sy(p)}`;
  });
  d += `L${sxL(100)} ${sy(1.74)}`;
  add(marks, "path", {d: d, fill: "none", stroke: "#c8323c", "stroke-width": 1.8}, "voltage-curve-intercalation");

  let r = `M${sxR(0)} ${sy(1.78)}L${sxR(0.3)} ${sy(1.7)}L${sxR(1.2)} ${sy(1.625)}`;
  deintX.forEach((x, k) => {
    const next = k + 1 < deintX.length ? deintX[k + 1] : 100;
    const dx = next - x;
    r += `L${sxR(x)} ${sy(deintTrough[k])}`;
    r += `Q${sxR(x + .1 * dx)} ${sy(deintPeak[k])} ${sxR(x + .4 * dx)} ${sy(deintPeak[k])}`;
    if (k + 1 < deintX.length) r += `Q${sxR(x + .85 * dx)} ${sy(deintPeak[k])} ${sxR(next)} ${sy(deintTrough[k + 1])}`;
  });
  add(marks, "path", {d: r, fill: "none", stroke: "#1f7ba7", "stroke-width": 2}, "voltage-curve-deintercalation");

  add(marks, "polyline", {points: pts(interX, interLogD, sxL, sd), fill: "none", stroke: "#d88", "stroke-width": .6}, "logd-line-intercalation");
  add(marks, "polyline", {points: pts(deintDotX, deintLogD, sxR, sd), fill: "none", stroke: "#9ab", "stroke-width": .6}, "logd-line-deintercalation");
  interX.forEach((x, i) => add(marks, "circle", {cx: sxL(x), cy: sd(interLogD[i]), r: 4.2, fill: "url(#sRed)"}, "logd-point-intercalation"));
  deintDotX.forEach((x, i) => add(marks, "circle", {cx: sxR(x), cy: sd(deintLogD[i]), r: 4.2, fill: "url(#sTeal)"}, "logd-point-deintercalation"));

  xAxis(g, sxL, hLeftXTicks, hLeftXLabels, hLeftXMinor, 817.3, "h-left", null, 16);
  xAxis(g, sxR, hRightXTicks, hRightXLabels, hRightXMinor, 817.3, "h-right", null, 16);
  yAxis(g, sy, hYTicks, hYLabels, hYMinor, 442, "h");
  hDTicks.forEach((v, i) => {
    tick(g, 1030, sd(v), 1025.5, sd(v), "h-right-y-tick");
    label(g, 1035, sd(v) + 5, hDLabels[i], "start", "tk", "h-right-y-tick-label");
  });
  hDMinor.forEach(v => tick(g, 1030, sd(v), 1027.5, sd(v), "h-right-y-minor-tick"));
})();
</script>
</body>
</html>
